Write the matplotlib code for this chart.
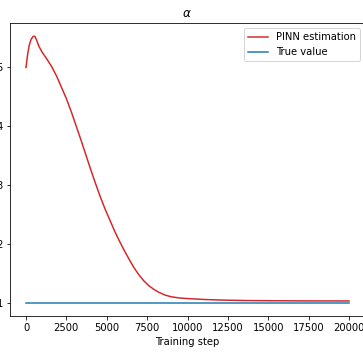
import numpy as np
import matplotlib
matplotlib.use("Agg")
import matplotlib.pyplot as plt

# values
steps = [0, 100, 200, 320, 450, 550, 650, 800, 1000, 1300, 1600, 1900,
         2200, 2500, 2800, 3100, 3400, 3700, 4000, 4300, 4600, 4900,
         5200, 5500, 5800, 6100, 6400, 6700, 7000, 7300, 7600, 7900,
         8200, 8600, 9000, 9500, 10000, 11000, 12000, 13500, 15000,
         17500, 20000]
alpha_pinn = [5.00, 5.22, 5.38, 5.48, 5.53, 5.53, 5.47, 5.36, 5.26, 5.14,
              5.01, 4.85, 4.66, 4.47, 4.25, 4.01, 3.77, 3.52, 3.27, 3.03,
              2.80, 2.59, 2.40, 2.21, 2.04, 1.88, 1.73, 1.59, 1.47, 1.37,
              1.29, 1.23, 1.18, 1.13, 1.10, 1.08, 1.07, 1.055, 1.045,
              1.037, 1.033, 1.030, 1.029]
true_steps = [0, 20000]
alpha_true = [1.0, 1.0]

fig = plt.figure(figsize=(363 / 72, 356 / 72), dpi=72)
# axes run past the right edge of the picture, as in the reference
ax = fig.add_axes([9.85 / 363, 40 / 356, 360 / 363, 293 / 356])

ax.plot(steps, alpha_pinn, color="tab:red", label="PINN estimation")
ax.plot(true_steps, alpha_true, color="tab:blue", label="True value")

ax.set_xlim(-1000, -1000 + 360 * 20000 / 323)
ax.set_title(r"$\alpha$", x=177.5 / 360)
ax.set_xlabel("Training step")
ax.xaxis.label.set_x(177.5 / 360)
ax.legend(loc="upper right", bbox_to_anchor=(355.2 / 360, 1.0))

fig.savefig("out.png", dpi=72)
